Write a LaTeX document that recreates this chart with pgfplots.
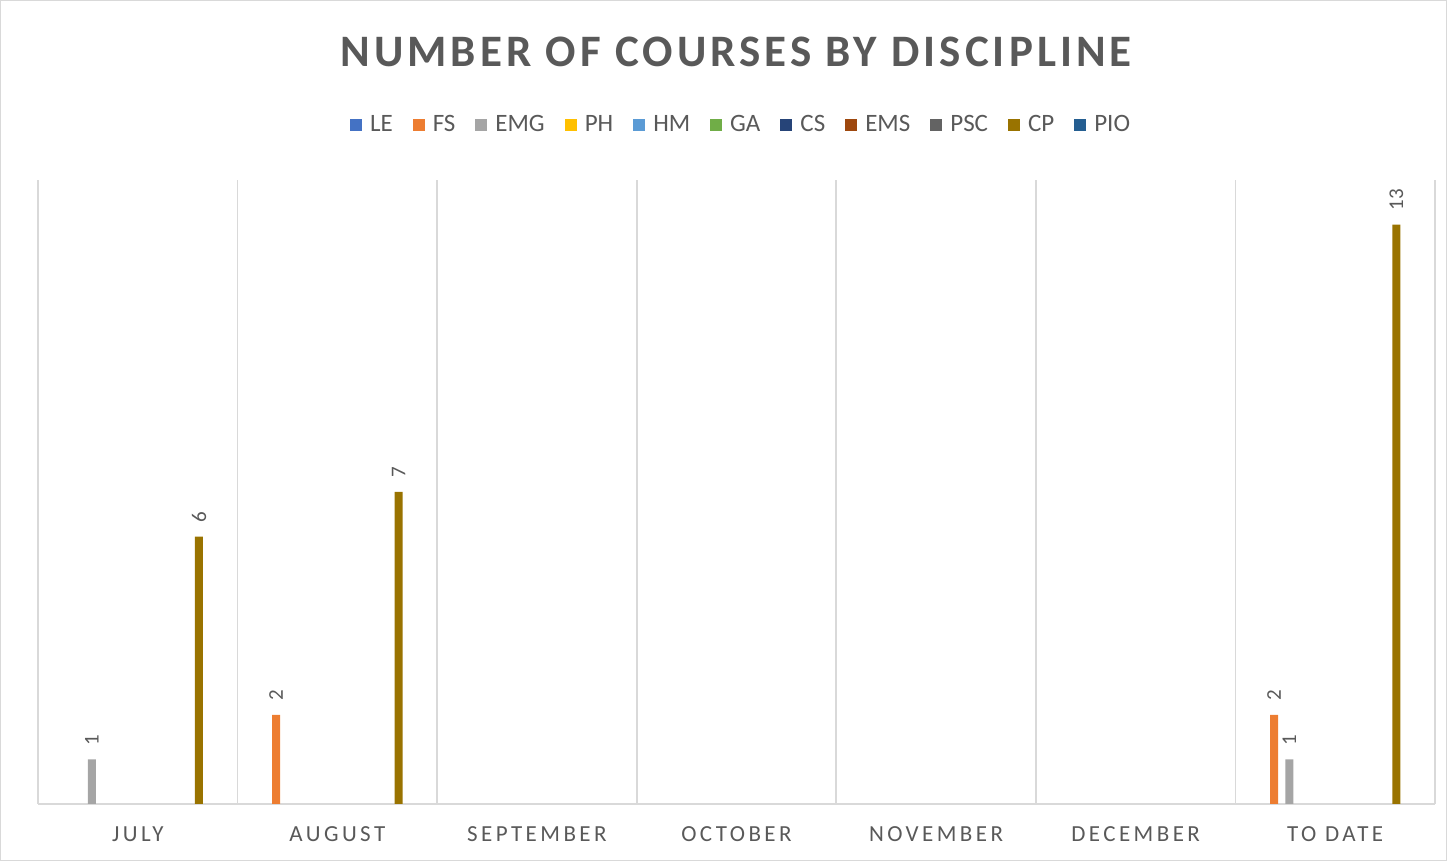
\documentclass[border=0pt]{standalone}
\usepackage{pgfplots}
\pgfplotsset{compat=1.18}
\usepackage{fontspec}
\setmainfont{Carlito}
\newfontfamily\titlefont[LetterSpace=9]{Carlito}
\newfontfamily\catfont[LetterSpace=15]{Carlito}
\definecolor{cle}{HTML}{4472C4}
\definecolor{cfs}{HTML}{ED7D31}
\definecolor{cemg}{HTML}{A5A5A5}
\definecolor{cph}{HTML}{FFC000}
\definecolor{chm}{HTML}{5B9BD5}
\definecolor{cga}{HTML}{70AD47}
\definecolor{ccs}{HTML}{264478}
\definecolor{cems}{HTML}{9E480E}
\definecolor{cpsc}{HTML}{636363}
\definecolor{ccp}{HTML}{997300}
\definecolor{cpio}{HTML}{255E91}
\definecolor{txtgray}{HTML}{595959}
\definecolor{gridgray}{HTML}{D9D9D9}
\begin{document}
\begin{tikzpicture}
\path[use as bounding box] (0,0) rectangle (723.5pt,430.5pt);
\draw[gridgray, line width=0.6pt] (0.3pt,0.3pt) rectangle (723.2pt,430.2pt);
\begin{axis}[
  at={(19pt,28.5pt)}, anchor=south west,
  scale only axis, width=698.5pt, height=312pt,
  clip=false,
  /pgf/number format/assume math mode=true,
  xmin=-0.5, xmax=6.5, ymin=0, ymax=14,
  axis x line*=bottom, axis y line=none,
  x axis line style={draw=gridgray, line width=0.9pt, -},
  xtick={0,1,2,3,4,5,6},
  xticklabels={JULY,AUGUST,SEPTEMBER,OCTOBER,NOVEMBER,DECEMBER,TO DATE},
  xtick style={draw=none},
  xticklabel style={font=\catfont\fontsize{11.5}{13}\selectfont, text=txtgray, yshift=-8pt},
  extra x ticks={-0.5,0.5,1.5,2.5,3.5,4.5,5.5,6.5},
  extra x tick labels={},
  extra x tick style={grid=major, major grid style={draw=gridgray, line width=0.9pt}, tick style={draw=none}},
  ytick=\empty,
  legend columns=-1,
  legend image code/.code={\fill[#1, draw=none] (0pt,-3pt) rectangle (6pt,3pt); \path[draw=none, fill=none] (8pt,0pt) circle (0pt);},
  legend style={draw=none, fill=none, at={(axis description cs:0.504,1.088)}, anchor=center,
    font=\fontsize{12.5}{14}\selectfont, text=txtgray,
    /tikz/every even column/.append style={column sep=8pt}},
  every node near coord/.append style={rotate=90, anchor=west, inner sep=7pt, font=\fontsize{10.5}{12}\selectfont, text=txtgray},
]
\addlegendimage{fill=cle}
\addlegendimage{fill=cfs}
\addlegendimage{fill=cemg}
\addlegendimage{fill=cph}
\addlegendimage{fill=chm}
\addlegendimage{fill=cga}
\addlegendimage{fill=ccs}
\addlegendimage{fill=cems}
\addlegendimage{fill=cpsc}
\addlegendimage{fill=ccp}
\addlegendimage{fill=cpio}
\legend{LE,FS,EMG,PH,HM,GA,CS,EMS,PSC,CP,PIO}
% FS offset -0.3067, EMG offset -0.2300, CP offset +0.3067 (category units)
\addplot[ybar, bar width=4pt, bar shift=0pt, fill=cfs, draw=none, forget plot, nodes near coords]
  coordinates {(0.6933,2) (5.6933,2)};
\addplot[ybar, bar width=4pt, bar shift=0pt, fill=cemg, draw=none, forget plot, nodes near coords]
  coordinates {(-0.2300,1) (5.7700,1)};
\addplot[ybar, bar width=4pt, bar shift=0pt, fill=ccp, draw=none, forget plot, nodes near coords]
  coordinates {(0.3067,6) (1.3067,7) (6.3067,13)};
\node[font=\titlefont\bfseries\fontsize{22.5}{26}\selectfont, text=txtgray] at (axis description cs:0.4997,1.205) {NUMBER OF COURSES BY DISCIPLINE};
\end{axis}
\end{tikzpicture}
\end{document}
